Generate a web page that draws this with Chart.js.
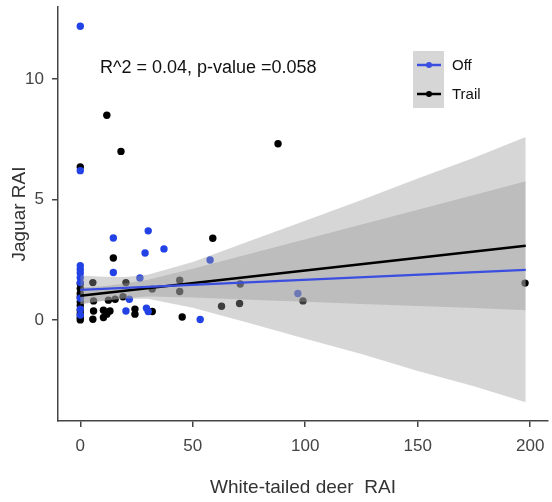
<!DOCTYPE html>
<html><head><meta charset="utf-8">
<script src="https://cdn.jsdelivr.net/npm/chart.js@4"></script>
<style>html,body{margin:0;padding:0;background:#fff}#wrap{width:552px;height:502px}</style>
</head><body><div id="wrap"><canvas id="c" width="552" height="502"></canvas></div>
<script>
// Scatter points
const offX = [0, 0, 0, 0, 0, 0, 0, 0, 0, 0, 14.7, 14.7, 30.2, 28.8, 37.2, 26.5, 21.8, 20.3, 29.4, 30.2, 53.3, 57.7, 96.7];
const offY = [12.2, 6.2, 2.25, 2.1, 1.95, 1.75, 1.55, 0.9, 0.45, 0.2, 3.4, 1.97, 3.7, 2.78, 2.95, 1.74, 0.86, 0.37, 0.49, 0.35, 0.02, 2.49, 1.1];
const trailX = [0, 0, 0, 0, 0, 0, 0, 0, 0, 0, 0, 11.8, 18.1, 87.9, 58.9, 14.7, 5.6, 20.3, 44.2, 44.2, 32, 5.9, 12.5, 15.5, 19, 5.9, 10.3, 13.2, 11.8, 24.3, 24.3, 32, 45.3, 5.6, 10.3, 71.1, 99, 62.8, 70.8, 197.7];
const trailY = [6.35, 1.5, 1.3, 1.1, 0.95, 0.75, 0.6, 0.4, 0.25, 0.1, 0.0, 8.5, 7.0, 7.32, 3.39, 2.57, 1.55, 1.55, 1.65, 1.18, 1.28, 0.79, 0.82, 0.86, 0.96, 0.37, 0.4, 0.37, 0.24, 0.45, 0.24, 0.35, 0.12, 0.03, 0.1, 1.49, 0.79, 0.57, 0.68, 1.53];

// Fitted lines
const fitX = [0, 198];
const offFit = [1.25, 2.08];
const trailFit = [1.0, 3.08];

// Confidence bands
const bandX = [0, 10, 20, 30, 50, 75, 100, 125, 150, 175, 198];
const offUpper = [1.85, 1.79, 1.78, 1.88, 2.41, 3.27, 4.12, 4.98, 5.88, 6.74, 7.6];
const offLower = [0.65, 0.79, 0.88, 0.88, 0.51, -0.13, -0.78, -1.42, -2.12, -2.76, -3.42];
const trailUpper = [1.35, 1.4, 1.51, 1.67, 2.13, 2.74, 3.35, 3.96, 4.58, 5.19, 5.76];
const trailLower = [0.65, 0.8, 0.91, 0.97, 0.93, 0.84, 0.75, 0.66, 0.58, 0.49, 0.4];

const xTicks = [0, 50, 100, 150, 200];
const yTicks = [0, 5, 10];
const seriesNames = ['Off', 'Trail'];
const annotationText = 'R^2 = 0.04, p-value =0.058';

const BLUE = '#2242e6';
const BLUE_LINE = '#3a4ee0';
const BLACK = '#000000';
const BAND = 'rgba(153,153,153,0.4)';
const FONT = "'Liberation Sans', Arial, Helvetica, sans-serif";

const pts = (xs, ys) => xs.map((x, i) => ({x, y: ys[i]}));

const overlay = {
  id: 'overlay',
  afterDraw(chart) {
    const ctx = chart.ctx;
    ctx.save();
    ctx.fillStyle = '#111';
    ctx.font = '18px ' + FONT;
    ctx.textAlign = 'left';
    ctx.textBaseline = 'middle';
    ctx.fillText(annotationText, 100, 68);
    // legend
    ctx.fillStyle = '#d6d6d6';
    ctx.fillRect(413, 51, 31, 57);
    const keys = [{c: BLUE_LINE, y: 65}, {c: BLACK, y: 94}];
    keys.forEach((k, i) => {
      ctx.strokeStyle = k.c; ctx.lineWidth = 2.5;
      ctx.beginPath(); ctx.moveTo(417, k.y); ctx.lineTo(441, k.y); ctx.stroke();
      ctx.fillStyle = k.c;
      ctx.beginPath(); ctx.arc(429, k.y, 3, 0, Math.PI * 2); ctx.fill();
      ctx.fillStyle = '#111';
      ctx.font = '15px ' + FONT;
      ctx.fillText(seriesNames[i], 452, k.y + 1);
    });
    ctx.restore();
  }
};

new Chart(document.getElementById('c'), {
  type: 'scatter',
  data: {
    datasets: [
      {type: 'line', label: 'Off fit', data: pts(fitX, offFit), borderColor: BLUE_LINE, borderWidth: 2.2, pointRadius: 0, fill: false, order: 0},
      {type: 'line', label: 'Trail fit', data: pts(fitX, trailFit), borderColor: BLACK, borderWidth: 2.5, pointRadius: 0, fill: false, order: 0},
      {type: 'line', label: 'Off upper', data: pts(bandX, offUpper), borderColor: 'rgba(0,0,0,0)', borderWidth: 0, pointRadius: 0, backgroundColor: BAND, fill: '+1', order: 1},
      {type: 'line', label: 'Off lower', data: pts(bandX, offLower), borderColor: 'rgba(0,0,0,0)', borderWidth: 0, pointRadius: 0, fill: false, order: 1},
      {type: 'line', label: 'Trail upper', data: pts(bandX, trailUpper), borderColor: 'rgba(0,0,0,0)', borderWidth: 0, pointRadius: 0, backgroundColor: BAND, fill: '+1', order: 1},
      {type: 'line', label: 'Trail lower', data: pts(bandX, trailLower), borderColor: 'rgba(0,0,0,0)', borderWidth: 0, pointRadius: 0, fill: false, order: 1},
      {label: seriesNames[0], data: pts(offX, offY), backgroundColor: BLUE, borderWidth: 0, pointRadius: 3.7, order: 2},
      {label: seriesNames[1], data: pts(trailX, trailY), backgroundColor: BLACK, borderWidth: 0, pointRadius: 3.7, order: 2}
    ]
  },
  options: {
    responsive: false,
    animation: false,
    layout: {padding: {top: 7, left: 0, right: 0, bottom: 0}},
    plugins: {legend: {display: false}, tooltip: {enabled: false}},
    scales: {
      x: {
        type: 'linear', min: -9.9, max: 207.9,
        afterBuildTicks: s => { s.ticks = xTicks.map(v => ({value: v})); },
        afterFit: s => { s.height = 81; s.paddingLeft = 0; s.paddingRight = 0; },
        grid: {drawOnChartArea: false, drawTicks: true, tickLength: 6, color: '#444', lineWidth: 1.5},
        border: {display: true, color: '#444', width: 1.5},
        ticks: {padding: 9, color: '#444', font: {family: FONT, size: 17}, maxRotation: 0},
        title: {display: true, text: 'White-tailed deer  RAI', color: '#333', font: {family: FONT, size: 19}, padding: {top: 0, bottom: 3}}
      },
      y: {
        type: 'linear', min: -4.2, max: 13.0,
        afterBuildTicks: s => { s.ticks = yTicks.map(v => ({value: v})); },
        afterFit: s => { s.width = 58; s.paddingTop = 0; s.paddingBottom = 0; },
        grid: {drawOnChartArea: false, drawTicks: true, tickLength: 6, color: '#444', lineWidth: 1.5},
        border: {display: true, color: '#444', width: 1.5},
        ticks: {padding: 8, color: '#444', font: {family: FONT, size: 17}},
        title: {display: true, text: 'Jaguar RAI', color: '#333', font: {family: FONT, size: 19}, padding: {top: 8, bottom: 0}}
      }
    }
  },
  plugins: [overlay]
});
</script>
</body></html>
